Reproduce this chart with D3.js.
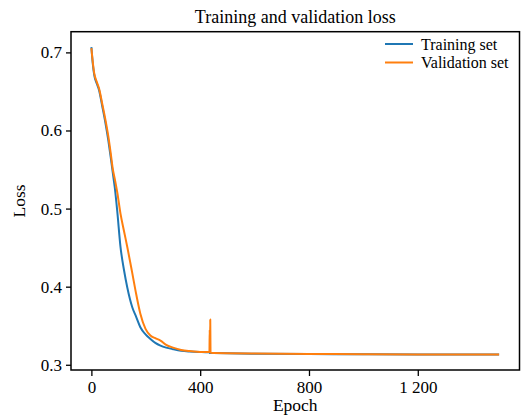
<!DOCTYPE html>
<html>
<head>
<meta charset="utf-8">
<script src="https://cdn.jsdelivr.net/npm/d3@7"></script>
<style>
  body { margin: 0; background: #fff; }
  text { font-family: "Liberation Serif", "DejaVu Serif", serif; fill: #000; }
</style>
</head>
<body>
<div id="container"></div>
<script>
/* DATA */
const epochs = [0, 5, 10, 20, 28, 40, 52, 62, 71, 79, 86, 95, 107, 120, 132, 150, 165, 180, 199, 217,
  235, 254, 275, 300, 330, 360, 400, 430, 434, 435, 436, 437, 438, 439, 450, 500, 600, 800, 1000, 1200, 1499];

const trainLoss = [0.7068, 0.686, 0.672, 0.660, 0.652, 0.631, 0.609, 0.588, 0.566, 0.545, 0.527, 0.497, 0.451, 0.421, 0.399, 0.374, 0.361, 0.348, 0.339, 0.333,
  0.328, 0.3245, 0.322, 0.320, 0.318, 0.317, 0.3163, 0.3160, 0.3160, 0.3156, 0.3150, 0.3155, 0.3153, 0.3152, 0.3151, 0.3148, 0.3142, 0.3137, 0.3134, 0.3132, 0.3130];

const valLoss = [0.7055, 0.688, 0.674, 0.662, 0.654, 0.634, 0.613, 0.593, 0.571, 0.550, 0.538, 0.521, 0.4936, 0.471, 0.4508, 0.418, 0.390, 0.3654, 0.346, 0.3375,
  0.334, 0.331, 0.3255, 0.322, 0.319, 0.3175, 0.3165, 0.3162, 0.3163, 0.345, 0.318, 0.358, 0.316, 0.3153, 0.3152, 0.3149, 0.3143, 0.3138, 0.3135, 0.3133, 0.3131];

const seriesNames = ["Training set", "Validation set"];
const seriesColors = ["#1f77b4", "#ff7f0e"];
const xTicks = [0, 400, 800, 1200];
const yTicks = [0.3, 0.4, 0.5, 0.6, 0.7];

/* CONSTANTS */
const width = 529,
  height = 417,
  margin = { top: 31.7, bottom: 47, left: 71, right: 9.5 };

/* SCALES */
// matplotlib style 5% padding on both axes
const xExt = d3.extent(epochs);
const xPad = (xExt[1] - xExt[0]) * 0.05;
const xScale = d3.scaleLinear()
  .domain([xExt[0] - xPad, xExt[1] + xPad])
  .range([margin.left, width - margin.right]);

const yExt = d3.extent(trainLoss.concat(valLoss));
const yPad = (yExt[1] - yExt[0]) * 0.05;
const yScale = d3.scaleLinear()
  .domain([yExt[0] - yPad, yExt[1] + yPad])
  .range([height - margin.bottom, margin.top]);

/* SVG */
const svg = d3.select("#container")
  .append("svg")
  .attr("width", width)
  .attr("height", height);

// axes
const fmtX = d => d >= 1000 ? d3.format(",")(d).replace(",", " ") : d3.format("d")(d);

const xAxis = d3.axisBottom(xScale)
  .tickValues(xTicks)
  .tickFormat(fmtX)
  .tickSize(6)
  .tickPadding(5);
svg.append("g")
  .attr("transform", `translate(0,${height - margin.bottom})`)
  .call(xAxis)
  .call(g => g.select(".domain").remove())
  .call(g => g.selectAll("line").attr("stroke", "#000").attr("stroke-width", 1.3))
  .call(g => g.selectAll("text").style("font-size", "17px").style("font-family", "Liberation Serif"));

const yAxis = d3.axisLeft(yScale)
  .tickValues(yTicks)
  .tickFormat(d3.format(".1f"))
  .tickSize(5)
  .tickPadding(4);
svg.append("g")
  .attr("transform", `translate(${margin.left},0)`)
  .call(yAxis)
  .call(g => g.select(".domain").remove())
  .call(g => g.selectAll("line").attr("stroke", "#000").attr("stroke-width", 1.3))
  .call(g => g.selectAll("text").style("font-size", "17px").style("font-family", "Liberation Serif"));

// lines
const line = d3.line()
  .x(d => xScale(d[0]))
  .y(d => yScale(d[1]))
  .curve(d3.curveMonotoneX);

[trainLoss, valLoss].forEach((vals, i) => {
  svg.append("path")
    .datum(epochs.map((e, j) => [e, vals[j]]))
    .attr("fill", "none")
    .attr("stroke", seriesColors[i])
    .attr("stroke-width", 2)
    .attr("stroke-linejoin", "round")
    .attr("d", line);
});

// frame
svg.append("rect")
  .attr("x", margin.left)
  .attr("y", margin.top)
  .attr("width", width - margin.left - margin.right)
  .attr("height", height - margin.top - margin.bottom)
  .attr("fill", "none")
  .attr("stroke", "#000")
  .attr("stroke-width", 1.5);

// title and labels
svg.append("text")
  .attr("x", (margin.left + width - margin.right) / 2)
  .attr("y", 23)
  .attr("text-anchor", "middle")
  .style("font-size", "18px")
  .text("Training and validation loss");

svg.append("text")
  .attr("x", (margin.left + width - margin.right) / 2)
  .attr("y", 411)
  .attr("text-anchor", "middle")
  .style("font-size", "17.5px")
  .text("Epoch");

svg.append("text")
  .attr("transform", `translate(25,${(margin.top + height - margin.bottom) / 2}) rotate(-90)`)
  .attr("text-anchor", "middle")
  .style("font-size", "17.5px")
  .text("Loss");

// legend
const legend = svg.append("g");
seriesNames.forEach((name, i) => {
  const y = 44 + i * 18.5;
  legend.append("line")
    .attr("x1", 385).attr("x2", 413)
    .attr("y1", y).attr("y2", y)
    .attr("stroke", seriesColors[i])
    .attr("stroke-width", 2);
  legend.append("text")
    .attr("x", 421)
    .attr("y", y)
    .attr("dy", "0.35em")
    .style("font-size", "16px")
    .text(name);
});
</script>
</body>
</html>
